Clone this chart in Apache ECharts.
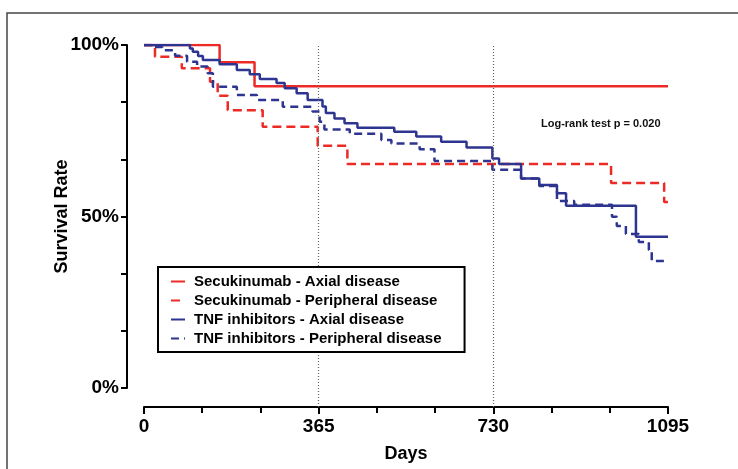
<!DOCTYPE html>
<html>
<head>
<meta charset="UTF-8">
<title>Survival</title>
<script src="https://cdn.jsdelivr.net/npm/echarts@6/dist/echarts.min.js"></script>
<style>
  html, body { margin: 0; padding: 0; background: #fff; }
  #chart { width: 738px; height: 469px; }
</style>
</head>
<body>
<div id="chart"></div>
<script>
// Kaplan-Meier steps: day of each drop and survival (%) after it
var secAxialDays = [0, 158, 231, 1095];
var secAxialSurv = [100, 95.0, 88.0, 88.0];

var secPeriphDays = [0, 23, 79, 138, 154, 175, 248, 363, 425, 976, 1087, 1095];
var secPeriphSurv = [100, 96.6, 93.2, 89.3, 85.2, 81.0, 76.2, 70.6, 65.3, 59.8, 54.2, 54.2];

var tnfAxialDays = [0, 96, 102, 113, 123, 158, 194, 221, 242, 277, 294, 319, 342, 373, 380, 398, 419, 446, 523, 569, 621, 674, 728, 742, 788, 826, 863, 882, 1028, 1095];
var tnfAxialSurv = [100, 99.0, 98.0, 96.8, 95.6, 94.4, 92.7, 91.5, 90.1, 88.9, 87.4, 85.9, 84.0, 82.1, 80.2, 78.6, 77.2, 75.9, 74.7, 73.3, 71.8, 70.1, 66.9, 65.3, 61.1, 59.2, 56.8, 53.1, 44.1, 44.1];

var tnfPeriphDays = [0, 17, 38, 65, 90, 111, 133, 144, 194, 236, 290, 352, 367, 377, 430, 496, 517, 576, 607, 728, 788, 826, 863, 899, 978, 988, 1007, 1034, 1055, 1061, 1095];
var tnfPeriphSurv = [100, 99.4, 98.5, 96.9, 95.1, 93.7, 91.8, 87.8, 85.4, 84.0, 82.0, 80.6, 77.6, 75.4, 74.1, 72.3, 71.3, 69.6, 66.2, 63.6, 61.1, 58.9, 54.5, 53.4, 49.9, 47.2, 44.9, 42.6, 40.2, 37.0, 37.0];

var seriesNames = [
  'Secukinumab - Axial disease',
  'Secukinumab - Peripheral disease',
  'TNF inhibitors - Axial disease',
  'TNF inhibitors - Peripheral disease'
];
var markDays = [365, 730];
var xTicks = [0, 365, 730, 1095];
var pText = 'Log-rank test p = 0.020';

var RED = '#ec2a26';
var BLUE = '#2e3590';
var FONT = '"Liberation Sans", Arial, sans-serif';

function pairs(d, s) {
  var out = [];
  for (var i = 0; i < d.length; i++) out.push([d[i], s[i]]);
  return out;
}

function kmSeries(name, d, s, color, dash) {
  return {
    name: name,
    type: 'line',
    step: 'end',
    symbol: 'none',
    data: pairs(d, s),
    lineStyle: { color: color, width: 2.5, type: dash ? dash : 'solid' },
    itemStyle: { color: color }
  };
}

var chart = echarts.init(document.getElementById('chart'));

var option = {
  animation: false,
  textStyle: { fontFamily: FONT },
  graphic: [{
    type: 'rect',
    shape: { x: 7, y: 13, width: 740, height: 470 },
    style: { fill: 'none', stroke: '#444', lineWidth: 1.5 },
    silent: true,
    z: -1
  }],
  title: {
    text: pText,
    left: 536,
    top: 113,
    textStyle: { fontSize: 11, fontWeight: 'bold', color: '#111', fontFamily: FONT }
  },
  legend: {
    data: seriesNames,
    orient: 'vertical',
    left: 158,
    top: 267,
    padding: [7, 23, 6, 12],
    itemGap: 4,
    itemWidth: 14,
    itemHeight: 12,
    backgroundColor: '#fff',
    borderColor: '#000',
    borderWidth: 2,
    z: 10,
    itemStyle: { color: 'rgba(0,0,0,0)', borderWidth: 0 },
    textStyle: { fontSize: 15, fontWeight: 'bold', color: '#000', padding: [0, 0, 0, 4], fontFamily: FONT }
  },
  grid: [
    { left: 144, right: 70, top: 45, bottom: 81 },
    { left: 144, right: 70, top: 45, bottom: 62 }
  ],
  xAxis: [{
    gridIndex: 0,
    type: 'value',
    min: 0,
    max: 1095,
    interval: 365,
    offset: 19,
    name: 'Days',
    nameLocation: 'middle',
    nameGap: 38,
    nameMoveOverlap: false,
    nameTextStyle: { fontSize: 18, fontWeight: 'bold', color: '#000', fontFamily: FONT },
    axisLine: { onZero: false, lineStyle: { color: '#000', width: 2 } },
    axisTick: { length: 7, lineStyle: { color: '#000', width: 2 } },
    minorTick: { show: true, splitNumber: 3, length: 6, lineStyle: { color: '#000', width: 2 } },
    splitLine: { show: false },
    axisLabel: {
      margin: 10, fontSize: 19, fontWeight: 'bold', color: '#000', fontFamily: FONT,
      formatter: function (v) { return xTicks.indexOf(Math.round(v)) >= 0 ? String(Math.round(v)) : ''; }
    }
  }, {
    gridIndex: 1, type: 'value', min: 0, max: 1095, show: false
  }],
  yAxis: [{
    gridIndex: 0,
    type: 'value',
    min: 0,
    max: 100,
    interval: 50,
    offset: 17,
    name: 'Survival Rate',
    nameLocation: 'middle',
    nameGap: 56,
    nameMoveOverlap: false,
    nameTextStyle: { fontSize: 18, fontWeight: 'bold', color: '#000', fontFamily: FONT },
    axisLine: { show: true, onZero: false, lineStyle: { color: '#000', width: 2 } },
    axisTick: { show: true, length: 6, lineStyle: { color: '#000', width: 2 } },
    minorTick: { show: true, splitNumber: 3, length: 6, lineStyle: { color: '#000', width: 2 } },
    splitLine: { show: false },
    axisLabel: { margin: 8, fontSize: 19, fontWeight: 'bold', color: '#000', fontFamily: FONT, formatter: '{value}%' }
  }, {
    gridIndex: 1, type: 'value', min: 0, max: 1, show: false
  }],
  series: [
    {
      name: 'ref',
      type: 'line',
      xAxisIndex: 1,
      yAxisIndex: 1,
      data: [],
      silent: true,
      markLine: {
        silent: true,
        symbol: 'none',
        label: { show: false },
        lineStyle: { color: '#666', width: 1.2, type: [1, 2] },
        data: markDays.map(function (d) { return { xAxis: d }; })
      }
    },
    kmSeries(seriesNames[0], secAxialDays, secAxialSurv, RED, null),
    kmSeries(seriesNames[1], secPeriphDays, secPeriphSurv, RED, [9, 5]),
    kmSeries(seriesNames[2], tnfAxialDays, tnfAxialSurv, BLUE, null),
    kmSeries(seriesNames[3], tnfPeriphDays, tnfPeriphSurv, BLUE, [8, 5])
  ]
};

chart.setOption(option);
</script>
</body>
</html>
